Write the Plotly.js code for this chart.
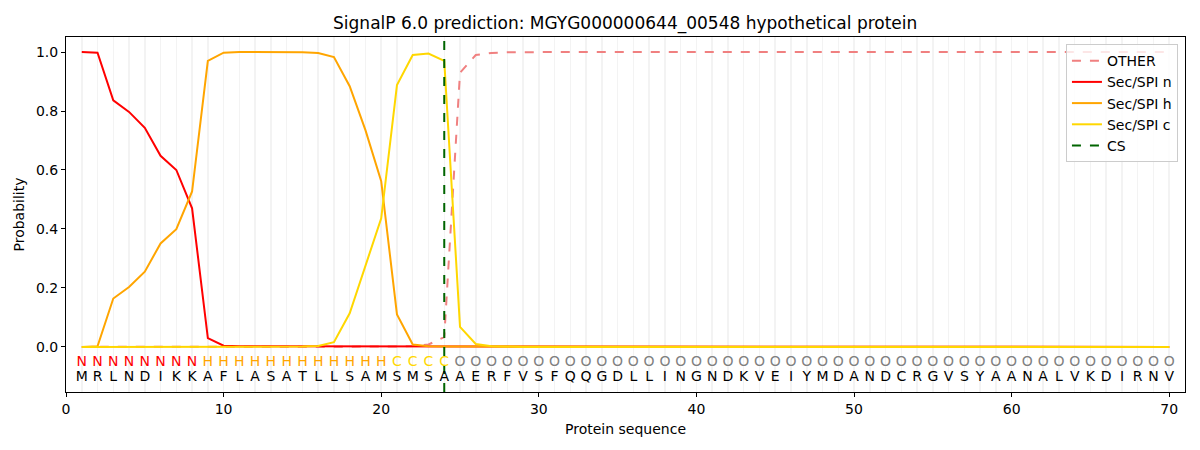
<!DOCTYPE html>
<html>
<head>
<meta charset="utf-8">
<script src="https://cdn.plot.ly/plotly-3.0.1.min.js"></script>
<style>
  html, body { margin: 0; padding: 0; background: #ffffff; }
  #chart { width: 1200px; height: 450px; }
</style>
</head>
<body>
<div id="chart"></div>
<script>
// Residue sequence and the per-residue region labels
const sequence = 'MRLNDIKKAFLASATLLSAMSMSAAERFVSFQQGDLLINGNDKVEIYMDANDCRGVSYAANALVKDIRNV'
const regionLabels = 'NNNNNNNNHHHHHHHHHHHHCCCCOOOOOOOOOOOOOOOOOOOOOOOOOOOOOOOOOOOOOOOOOOOOOO'

// Probabilities, residue 1..70
const otherProb = [
  0.000, 0.000, 0.000, 0.000, 0.000, 0.000, 0.000, 0.000, 0.000, 0.000,
  0.000, 0.000, 0.000, 0.000, 0.000, 0.000, 0.000, 0.000, 0.000, 0.001,
  0.001, 0.003, 0.008, 0.033, 0.930, 0.990, 0.997, 0.999, 1.000, 1.000,
  1.000, 1.000, 1.000, 1.000, 1.000, 1.000, 1.000, 1.000, 1.000, 1.000,
  1.000, 1.000, 1.000, 1.000, 1.000, 1.000, 1.000, 1.000, 1.000, 1.000,
  1.000, 1.000, 1.000, 1.000, 1.000, 1.000, 1.000, 1.000, 1.000, 1.000,
  1.000, 1.000, 1.000, 1.000, 1.000, 1.000, 1.000, 1.000, 1.000, 1.000
]
const secN = [
  1.000, 0.998, 0.836, 0.797, 0.743, 0.648, 0.600, 0.470, 0.030, 0.004,
  0.002, 0.002, 0.002, 0.002, 0.002, 0.002, 0.002, 0.001, 0.001, 0.001,
  0.001, 0.001, 0.001, 0.000, 0.000, 0.000, 0.000, 0.000, 0.000, 0.000,
  0.000, 0.000, 0.000, 0.000, 0.000, 0.000, 0.000, 0.000, 0.000, 0.000,
  0.000, 0.000, 0.000, 0.000, 0.000, 0.000, 0.000, 0.000, 0.000, 0.000,
  0.000, 0.000, 0.000, 0.000, 0.000, 0.000, 0.000, 0.000, 0.000, 0.000,
  0.000, 0.000, 0.000, 0.000, 0.000, 0.000, 0.000, 0.000, 0.000, 0.000
]
const secH = [
  0.000, 0.002, 0.164, 0.203, 0.255, 0.351, 0.399, 0.527, 0.970, 0.998,
  1.000, 1.000, 1.000, 1.000, 0.999, 0.997, 0.983, 0.884, 0.735, 0.562,
  0.110, 0.008, 0.002, 0.001, 0.001, 0.000, 0.000, 0.000, 0.000, 0.000,
  0.000, 0.000, 0.000, 0.000, 0.000, 0.000, 0.000, 0.000, 0.000, 0.000,
  0.000, 0.000, 0.000, 0.000, 0.000, 0.000, 0.000, 0.000, 0.000, 0.000,
  0.000, 0.000, 0.000, 0.000, 0.000, 0.000, 0.000, 0.000, 0.000, 0.000,
  0.000, 0.000, 0.000, 0.000, 0.000, 0.000, 0.000, 0.000, 0.000, 0.000
]
const secC = [
  0.000, 0.000, 0.000, 0.000, 0.000, 0.000, 0.000, 0.000, 0.000, 0.000,
  0.000, 0.000, 0.000, 0.000, 0.001, 0.003, 0.016, 0.114, 0.272, 0.436,
  0.888, 0.990, 0.995, 0.970, 0.068, 0.010, 0.002, 0.000, 0.000, 0.000,
  0.000, 0.000, 0.000, 0.000, 0.000, 0.000, 0.000, 0.000, 0.000, 0.000,
  0.000, 0.000, 0.000, 0.000, 0.000, 0.000, 0.000, 0.000, 0.000, 0.000,
  0.000, 0.000, 0.000, 0.000, 0.000, 0.000, 0.000, 0.000, 0.000, 0.000,
  0.000, 0.000, 0.000, 0.000, 0.000, 0.000, 0.000, 0.000, 0.000, 0.000
]

const cleavageSite = 24
const xTicks = [0, 10, 20, 30, 40, 50, 60, 70]
const yTicks = [0.0, 0.2, 0.4, 0.6, 0.8, 1.0]
const xRange = [0, 71]
const yRange = [-0.153, 1.051]
const labelRowY = -0.054
const seqRowY = -0.105

const labelColors = { N: '#ff0000', H: '#ffa500', C: '#ffd700', O: '#808080' }

const positions = sequence.split('').map((_, i) => i + 1)
const font = 'DejaVu Sans, Verdana, sans-serif'

const line = (y, name, color, dash) => ({
  x: positions,
  y: y,
  type: 'scatter',
  mode: 'lines',
  name: name,
  line: { color: color, width: 2, dash: dash || 'solid' },
  hoverinfo: 'skip'
})

const traces = [
  line(otherProb, 'OTHER', '#f08080', 'dash'),
  line(secN, 'Sec/SPI n', '#ff0000'),
  line(secH, 'Sec/SPI h', '#ffa500'),
  line(secC, 'Sec/SPI c', '#ffd700'),
  {
    x: [cleavageSite, cleavageSite],
    y: yRange,
    type: 'scatter',
    mode: 'lines',
    name: 'CS',
    line: { color: '#006400', width: 2, dash: 'dash' },
    hoverinfo: 'skip'
  },
  {
    x: positions,
    y: positions.map(() => labelRowY),
    type: 'scatter',
    mode: 'text',
    text: regionLabels.split(''),
    textposition: 'middle center',
    textfont: { family: font, size: 14, color: regionLabels.split('').map(l => labelColors[l]) },
    showlegend: false,
    hoverinfo: 'skip',
    cliponaxis: false
  },
  {
    x: positions,
    y: positions.map(() => seqRowY),
    type: 'scatter',
    mode: 'text',
    text: sequence.split(''),
    textposition: 'middle center',
    textfont: { family: font, size: 14, color: '#000000' },
    showlegend: false,
    hoverinfo: 'skip',
    cliponaxis: false
  }
]

const layout = {
  width: 1200,
  height: 450,
  margin: { l: 66, r: 15, t: 37, b: 58 },
  paper_bgcolor: '#ffffff',
  plot_bgcolor: '#ffffff',
  font: { family: font, size: 14, color: '#000000' },
  title: {
    text: 'SignalP 6.0 prediction: MGYG000000644_00548 hypothetical protein',
    font: { family: font, size: 17, color: '#000000' },
    x: 0.521,
    xanchor: 'center',
    y: 0.949,
    yanchor: 'middle'
  },
  xaxis: {
    range: xRange,
    tickvals: xTicks,
    ticktext: xTicks.map(String),
    ticks: 'outside',
    ticklen: 4,
    tickcolor: '#000000',
    showline: true,
    linecolor: '#000000',
    linewidth: 1,
    mirror: true,
    zeroline: false,
    showgrid: false,
    minor: { dtick: 1, tick0: 0, showgrid: true, gridcolor: '#f3f3f3', gridwidth: 1.5, ticks: '' },
    title: { text: 'Protein sequence', font: { family: font, size: 14 }, standoff: 8 }
  },
  yaxis: {
    range: yRange,
    tickvals: yTicks,
    ticktext: yTicks.map(v => v.toFixed(1)),
    ticks: 'outside',
    ticklen: 4,
    tickcolor: '#000000',
    showline: true,
    linecolor: '#000000',
    linewidth: 1,
    mirror: true,
    zeroline: false,
    showgrid: false,
    title: { text: 'Probability', font: { family: font, size: 14 }, standoff: 8 }
  },
  legend: {
    x: 0.9937,
    xanchor: 'right',
    y: 0.98,
    yanchor: 'top',
    bgcolor: 'rgba(255,255,255,0.8)',
    bordercolor: '#cccccc',
    borderwidth: 1,
    font: { family: font, size: 14, color: '#000000' },
    tracegroupgap: 0
  },
  showlegend: true
}

Plotly.newPlot('chart', traces, layout, { displayModeBar: false, staticPlot: true })
</script>
</body>
</html>
